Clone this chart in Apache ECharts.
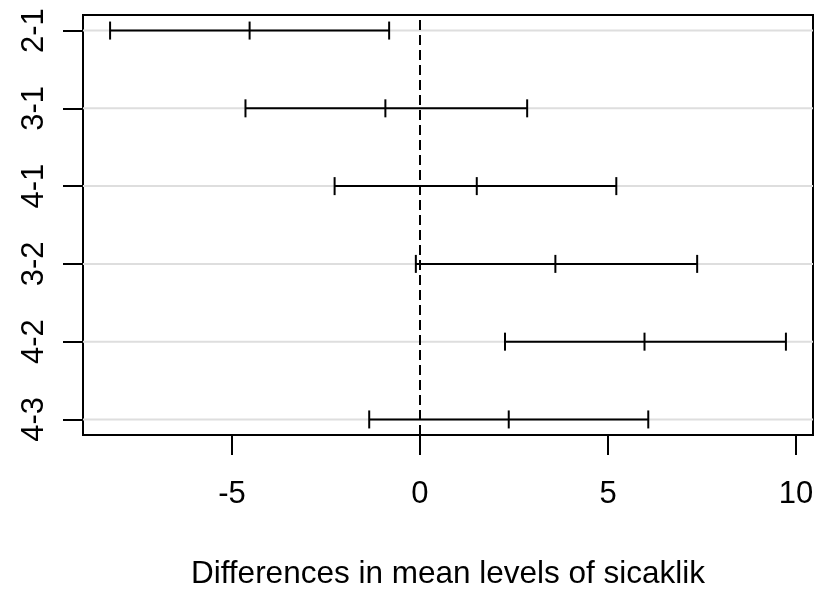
<!DOCTYPE html>
<html>
<head>
<meta charset="utf-8">
<script src="https://cdn.jsdelivr.net/npm/echarts@6/dist/echarts.min.js"></script>
<style>
  html, body { margin: 0; padding: 0; background: #ffffff; }
  #chart { width: 817px; height: 593px; }
</style>
</head>
<body>
<div id="chart"></div>
<script>
// Tukey HSD family-wise confidence intervals for sicaklik
const comparisons = ['2-1', '3-1', '4-1', '3-2', '4-2', '4-3'];
const diff = [-4.53, -0.92, 1.51, 3.60, 5.97, 2.36];
const lwr  = [-8.24, -4.64, -2.27, -0.11, 2.26, -1.35];
const upr  = [-0.82, 2.85, 5.22, 7.37, 9.73, 6.07];
const xTicks = [-5, 0, 5, 10];
const xTitle = 'Differences in mean levels of sicaklik';

const n = comparisons.length;
// first comparison sits at the top of the panel
const rowPos = comparisons.map((_, i) => n - i);
const yTicks = rowPos.slice().reverse();

const font = '"Liberation Sans", Arial, sans-serif';
const fs = 31;

const intervalData = comparisons.map((_, i) => [diff[i], rowPos[i], lwr[i], upr[i]]);

const chart = echarts.init(document.getElementById('chart'), null, { renderer: 'canvas' });

chart.setOption({
  animation: false,
  backgroundColor: '#ffffff',
  grid: {
    left: 83, right: 4, top: 15, bottom: 158,
    outerBoundsMode: 'none',
    containLabel: false,
    show: true, borderColor: '#000', borderWidth: 2, backgroundColor: 'transparent'
  },
  xAxis: {
    type: 'value',
    min: -8.96, max: 10.45,
    axisLine: { show: false, onZero: false },
    splitLine: { show: false },
    axisTick: { show: true, customValues: xTicks, length: 20, lineStyle: { color: '#000', width: 2 } },
    axisLabel: { customValues: xTicks, margin: 44, color: '#000', fontSize: fs, fontFamily: font },
    name: xTitle,
    nameLocation: 'middle',
    nameGap: 123,
    nameTextStyle: { color: '#000', fontSize: 31.5, fontFamily: font }
  },
  yAxis: {
    type: 'value',
    min: 0.8, max: 6.2,
    axisLine: { show: false, onZero: false },
    splitLine: { show: false },
    axisTick: { show: true, customValues: yTicks, length: 20, lineStyle: { color: '#000', width: 2 } },
    axisLabel: {
      customValues: yTicks, rotate: 90, margin: 33,
      color: '#000', fontSize: fs, fontFamily: font,
      formatter: v => comparisons[n - Math.round(v)]
    }
  },
  series: [
    {
      // light reference line across the panel for each comparison
      type: 'custom',
      silent: true,
      z: 1,
      data: rowPos.map(p => [0, p]),
      renderItem: (params, api) => {
        const cs = params.coordSys;
        const y = api.coord([0, api.value(1)])[1];
        return {
          type: 'line',
          shape: { x1: cs.x, y1: y, x2: cs.x + cs.width, y2: y },
          style: { stroke: '#dedede', lineWidth: 2 }
        };
      }
    },
    {
      type: 'custom',
      silent: true,
      z: 3,
      data: intervalData,
      encode: { x: [0, 2, 3], y: 1 },
      renderItem: (params, api) => {
        const y = api.value(1);
        const pm = api.coord([api.value(0), y]);
        const pl = api.coord([api.value(2), y]);
        const pu = api.coord([api.value(3), y]);
        const h = 9;
        const st = { stroke: '#000', lineWidth: 2 };
        return {
          type: 'group',
          children: [
            { type: 'line', shape: { x1: pl[0], y1: pl[1], x2: pu[0], y2: pu[1] }, style: st },
            { type: 'line', shape: { x1: pl[0], y1: pl[1] - h, x2: pl[0], y2: pl[1] + h }, style: st },
            { type: 'line', shape: { x1: pm[0], y1: pm[1] - h, x2: pm[0], y2: pm[1] + h }, style: st },
            { type: 'line', shape: { x1: pu[0], y1: pu[1] - h, x2: pu[0], y2: pu[1] + h }, style: st }
          ]
        };
      },
      markLine: {
        silent: true,
        symbol: ['none', 'none'],
        label: { show: false },
        lineStyle: { color: '#000', width: 2, type: [10, 5] },
        data: [{ xAxis: 0 }]
      }
    }
  ]
});
</script>
</body>
</html>
